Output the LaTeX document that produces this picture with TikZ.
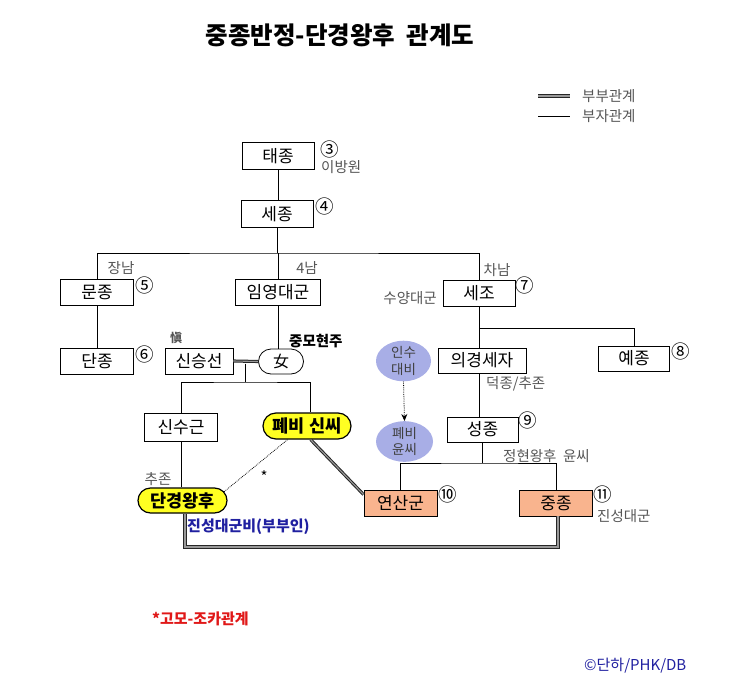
\documentclass[tikz,border=0pt]{standalone}
\usepackage{fontspec}
\setmainfont{Noto Sans CJK KR}
\usetikzlibrary{shapes.misc,shapes.geometric,arrows.meta}
\definecolor{lblgray}{HTML}{555555}
\definecolor{yel}{HTML}{FFFF22}
\definecolor{salmon}{HTML}{F9B48E}
\definecolor{lav}{HTML}{A8AEE6}
\definecolor{navy}{HTML}{2020A0}
\definecolor{redt}{HTML}{E01818}
\begin{document}
\begin{tikzpicture}[x=1pt,y=-1pt,
  kbox/.style={draw,line width=0.8pt,rectangle,minimum height=26pt,inner sep=0pt,font=\fontsize{17}{19}\selectfont},
  ybox/.style={draw,line width=1.2pt,rounded rectangle,fill=yel,minimum height=25pt,inner sep=0pt,font=\bfseries\fontsize{17.5}{19}\selectfont},
  sbox/.style={kbox,fill=salmon},
  lav ell/.style={ellipse,fill=lav,inner sep=0pt,align=center,text=black!75,font=\fontsize{13.5}{16.5}\selectfont},
  lbl/.style={inner sep=0pt,text=lblgray,font=\fontsize{14.5}{16}\selectfont},
  num/.style={inner sep=0pt,font=\fontsize{18.5}{20}\selectfont},
  conn/.style={draw,line width=0.8pt},
  wed/.style={draw=black!85,line width=1pt,double=black!40,double distance=1.1pt},
]
\useasboundingbox (0,0) rectangle (738,698);

% title
\node[inner sep=0pt,font=\bfseries\fontsize{24.5}{28}\selectfont] (title) at (340,35) {중종반정-단경왕후~~관계도};

% legend
\coordinate (lg1a) at (538,96); \coordinate (lg1b) at (570,96);
\coordinate (lg2a) at (538,116); \coordinate (lg2b) at (570,116);
\draw[wed] (lg1a) -- (lg1b);
\draw[conn] (lg2a) -- (lg2b);
\node[lbl,anchor=west] (lgt1) at (582,96) {부부관계};
\node[lbl,anchor=west] (lgt2) at (582,116) {부자관계};

% boxes
\node[kbox,minimum width=72pt,minimum height=27pt] (taejong) at (278,156) {태종};
\node[kbox,minimum width=72pt,minimum height=27pt] (sejong) at (277,214) {세종};
\node[kbox,minimum width=73pt] (munjong) at (97,292.5) {문종};
\node[kbox,minimum width=73pt] (danjong) at (97,361) {단종};
\node[kbox,minimum width=85pt] (imyeong) at (278,292) {임영대군};
\node[kbox,minimum width=72pt] (sejo) at (479,293) {세조};
\node[kbox,minimum width=68pt] (singseon) at (199,361) {신승선};
\node[draw,line width=0.8pt,rounded rectangle,minimum width=45pt,minimum height=25pt,inner sep=0pt,font=\itshape\fontsize{16}{18}\selectfont] (nyeo) at (281,361.5) {女};
\node[kbox,minimum width=88pt,minimum height=25pt] (uigyeong) at (482,360.5) {의경세자};
\node[kbox,minimum width=71pt,minimum height=25pt] (yejong) at (634,358.5) {예종};
\node[lav ell,minimum width=55pt,minimum height=39pt] (insu) at (403.5,361) {인수\\대비};
\node[lav ell,minimum width=57pt,minimum height=40pt] (pyebiyun) at (404.5,441.5) {폐비\\윤씨};
\node[kbox,minimum width=73pt,minimum height=28pt] (sinsugeun) at (181,427) {신수근};
\node[ybox,minimum width=88pt,minimum height=26pt] (pyebisin) at (307,426) {폐비\hspace{5pt}신씨};
\node[kbox,minimum width=71pt,minimum height=25pt] (seongjong) at (482.5,429.5) {성종};
\node[ybox,minimum width=89pt] (dangyeong) at (182.5,500.5) {단경왕후};
\node[sbox,minimum width=73pt] (yeonsan) at (400.5,503) {연산군};
\node[sbox,minimum width=73pt] (jungjong) at (556,503) {중종};

% connectors
\coordinate (hbar) at (280,253);
\draw[conn] (taejong.south) -- (taejong.south |- sejong.north);
\draw[conn] (sejong.south) -- (sejong.south |- hbar);
\draw[conn] (munjong.north) |- (hbar) -| (sejo.north);
\draw[conn] (imyeong.north) -- (imyeong.north |- hbar);
\draw[conn] (munjong.south) -- (danjong.north);
\draw[conn] (imyeong.south) -- (imyeong.south |- nyeo.north);
\draw[wed] (singseon.east) -- (nyeo.west);
\coordinate (m1) at (245,363.5);
\coordinate (c1) at (245,382);
\draw[conn] (m1) -- (c1);
\draw[conn] (sinsugeun.north) |- (c1) -| ([xshift=3pt]pyebisin.north);
\draw[conn] (sinsugeun.south) -- (sinsugeun.south |- dangyeong.north);
\draw[densely dotted,line width=0.8pt] (dangyeong.12) -- (pyebisin.215);
\draw[wed] (pyebisin.285) -- ([yshift=-5pt]yeonsan.north west);
\coordinate (sbar) at (479,328);
\draw[conn] (sejo.south) -- (sejo.south |- uigyeong.north);
\draw[conn] (sbar) -| (yejong.north);
\draw[conn] (uigyeong.south -| sejo.south) -- (seongjong.north -| sejo.south);
\coordinate (c2) at (481,463);
\draw[conn] (seongjong.south) -- (seongjong.south |- c2);
\draw[conn] (yeonsan.north) |- (c2) -| (jungjong.north);
\coordinate (c3) at (370,547);
\draw[wed] ([xshift=2.5pt]dangyeong.south) |- (c3) -| ([xshift=2pt]jungjong.south);
\draw[densely dotted,line width=0.8pt,-{Stealth[length=7pt,width=6pt]}] (insu.south) -- (pyebiyun.north);

% labels
\node[num] (n3) at (330,149) {③};
\node[lbl,anchor=west] (lb1) at (321,167) {이방원};
\node[num] (n4) at (325,206) {④};
\node[lbl] (lb2) at (121,268) {장남};
\node[num] (n5) at (145,285) {⑤};
\node[num] (n6) at (145,354) {⑥};
\node[lbl] (lb3) at (307,268) {4남};
\node[lbl] (lb4) at (497,270) {차남};
\node[num] (n7) at (525,285) {⑦};
\node[lbl,anchor=east] (lb5) at (437,298) {수양대군};
\node[num] (n8) at (681,351) {⑧};
\node[lbl,font=\bfseries\fontsize{12}{13}\selectfont] (lb6) at (176,338) {愼};
\node[inner sep=0pt,anchor=west,font=\bfseries\fontsize{14.5}{16}\selectfont] (lb7) at (289,341) {중모현주};
\node[lbl,anchor=west] (lb8) at (486,384) {덕종/추존};
\node[num] (n9) at (528,420) {⑨};
\node[lbl,anchor=west] (lb9) at (503,456) {정현왕후~~윤씨};
\node[num] (n10) at (448,494) {⑩};
\node[num] (n11) at (603,494) {⑪};
\node[lbl,anchor=west] (lb10) at (597,516) {진성대군};
\node[inner sep=0pt,font=\fontsize{15}{16}\selectfont] (star) at (264,477) {*};
\node[lbl] (lb11) at (158,479) {추존};
\node[inner sep=0pt,anchor=west,text=navy,font=\bfseries\fontsize{15}{17}\selectfont] (lb12) at (187,527) {진성대군비(부부인)};
\node[inner sep=0pt,anchor=west,text=redt,font=\bfseries\fontsize{15}{17}\selectfont] (lb13) at (152,619) {*고모-조카관계};
\node[inner sep=0pt,anchor=west,text=navy,font=\fontsize{15}{17}\selectfont] (lb14) at (584,666) {©단하/PHK/DB};
\end{tikzpicture}
\end{document}
